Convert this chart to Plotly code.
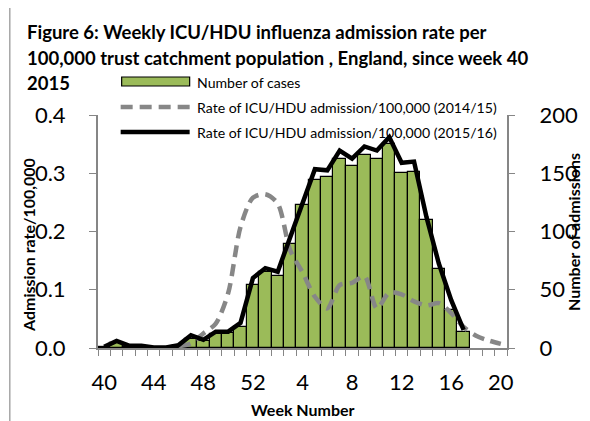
import plotly.graph_objects as go

# ---------------- data ----------------
weeks = [40, 41, 42, 43, 44, 45, 46, 47, 48, 49, 50, 51, 52,
         1, 2, 3, 4, 5, 6, 7, 8, 9, 10, 11, 12, 13, 14, 15, 16, 17, 18, 19, 20]

cases_2015_16 = [1, 4, 1, 1, 0, 0, 2, 8, 6, 12, 13, 18, 54,
                 65, 62, 89, 123, 144, 147, 162, 156, 166, 162, 175, 150, 151,
                 110, 68, 33, 14, None, None, None]

rate_2014_15 = [None, None, None, None, None, None, 0.003, 0.008, 0.025, 0.042, 0.094, 0.208, 0.258,
                0.264, 0.248, 0.168, 0.130, 0.088, 0.068, 0.108, 0.112, 0.123, 0.068, 0.095, 0.092, 0.080,
                0.073, 0.077, 0.060, 0.036, 0.021, 0.013, 0.007]

rate_2015_16 = [0.002, 0.012, 0.004, 0.004, 0.001, 0.001, 0.005, 0.022, 0.014, 0.028, 0.028, 0.043, 0.120,
                0.137, 0.131, 0.190, 0.248, 0.307, 0.305, 0.339, 0.325, 0.346, 0.339, 0.362, 0.318, 0.320,
                0.225, 0.145, 0.082, 0.031, None, None, None]

label_every = 4
title_lines = ["Figure 6: Weekly ICU/HDU influenza admission rate per",
               "100,000 trust catchment population , England, since week 40",
               "2015"]
legend_labels = ["Number of cases",
                 "Rate of ICU/HDU admission/100,000 (2014/15)",
                 "Rate of ICU/HDU admission/100,000 (2015/16)"]

# ---------------- geometry helpers ----------------
OFF = 8                      # page body margin
W, H = 590 - OFF, 421 - OFF  # figure size
# plot area in window pixels
L, R, T, B = 98, 513, 115, 348


def px(x):
    return (x - L) / (R - L)


def py(y):
    return (B - y) / (B - T)


FONT = "Lato"
pos = list(range(len(weeks)))

fig = go.Figure()

fig.add_trace(go.Bar(
    x=pos, y=cases_2015_16, yaxis="y", width=1,
    marker=dict(color="#9BBB59", line=dict(color="black", width=1.2)),
    name=legend_labels[0], showlegend=False,
))
fig.add_trace(go.Scatter(
    x=pos, y=rate_2014_15, yaxis="y2", mode="lines",
    line=dict(color="#878787", width=4.5, dash="12px,7px", shape="spline", smoothing=0.8),
    name=legend_labels[1], showlegend=False,
))
fig.add_trace(go.Scatter(
    x=pos, y=rate_2015_16, yaxis="y2", mode="lines",
    line=dict(color="black", width=4.5),
    name=legend_labels[2], showlegend=False,
))

tickvals = [i for i in pos if i % label_every == 0]
ticktext = [str(weeks[i]) for i in tickvals]
minor_vals = [i - 0.5 for i in range(len(weeks) + 1)]

axis_grey = "#868686"

fig.update_layout(
    width=W, height=H,
    margin=dict(l=L - OFF, r=W - (R - OFF), t=T - OFF, b=H - (B - OFF), pad=0),
    paper_bgcolor="white", plot_bgcolor="white",
    font=dict(family=FONT, color="black"),
    bargap=0,
    xaxis=dict(
        range=[-0.5, len(weeks) - 0.5],
        tickmode="array", tickvals=tickvals, ticktext=ticktext,
        ticks="outside", ticklen=6, tickcolor="rgba(0,0,0,0)",
        minor=dict(tickmode="array", tickvals=minor_vals, ticks="outside",
                   ticklen=6, tickcolor=axis_grey, tickwidth=1),
        showline=True, linecolor=axis_grey, linewidth=2,
        showgrid=False, zeroline=False,
        tickfont=dict(size=22, family=FONT),
        ticklabelstandoff=8,
    ),
    yaxis=dict(
        side="right", range=[0, 200], dtick=50, tick0=0,
        ticks="outside", ticklen=6, tickcolor=axis_grey,
        showline=True, linecolor=axis_grey, linewidth=2,
        showgrid=False, zeroline=False,
        tickfont=dict(size=22, family=FONT),
        ticklabelstandoff=20,
    ),
    yaxis2=dict(
        side="left", overlaying="y", range=[0, 0.4], dtick=0.1, tick0=0,
        tickformat=".1f",
        ticks="outside", ticklen=7, tickcolor=axis_grey,
        showline=True, linecolor=axis_grey, linewidth=2,
        showgrid=False, zeroline=False,
        tickfont=dict(size=22, family=FONT),
        ticklabelstandoff=19,
    ),
)

# border of the chart area (left and top visible)
fig.add_shape(type="line", xref="paper", yref="paper",
              x0=px(8.5), x1=px(8.5), y0=py(4), y1=py(430),
              line=dict(color="#A6A6A6", width=1.5))
fig.add_shape(type="line", xref="paper", yref="paper",
              x0=px(8.5), x1=px(600), y0=py(4), y1=py(4),
              line=dict(color="#A6A6A6", width=1.5))

# title
for txt, yc in zip(title_lines, [32, 58, 83]):
    fig.add_annotation(text="<b>%s</b>" % txt, xref="paper", yref="paper",
                       x=px(24), y=py(yc), xanchor="left", yanchor="middle",
                       showarrow=False, font=dict(size=18.5, family=FONT, color="black"))

# manual legend
fig.add_shape(type="rect", xref="paper", yref="paper",
              x0=px(122), x1=px(191), y0=py(86), y1=py(77),
              fillcolor="#9BBB59", line=dict(color="black", width=1.2))
fig.add_shape(type="line", xref="paper", yref="paper",
              x0=px(121), x1=px(191), y0=py(107), y1=py(107),
              line=dict(color="#878787", width=4.5, dash="12px,7px"))
fig.add_shape(type="line", xref="paper", yref="paper",
              x0=px(121), x1=px(191), y0=py(132), y1=py(132),
              line=dict(color="black", width=4.5))
for txt, yc in zip(legend_labels, [82, 107, 132]):
    fig.add_annotation(text=txt, xref="paper", yref="paper",
                       x=px(196), y=py(yc), xanchor="left", yanchor="middle",
                       showarrow=False, font=dict(size=14.1, family=FONT, color="black"))

# axis titles
fig.add_annotation(text="<b>Admission rate/100,000</b>", xref="paper", yref="paper",
                   x=px(27), y=py(245), textangle=-90, showarrow=False,
                   xanchor="center", yanchor="middle",
                   font=dict(size=16, family=FONT, color="black"))
fig.add_annotation(text="<b>Number of admissions</b>", xref="paper", yref="paper",
                   x=px(580), y=py(232), textangle=-90, showarrow=False,
                   xanchor="center", yanchor="middle",
                   font=dict(size=16, family=FONT, color="black"))
fig.add_annotation(text="<b>Week Number</b>", xref="paper", yref="paper",
                   x=px(306), y=py(409), showarrow=False,
                   xanchor="center", yanchor="middle",
                   font=dict(size=16, family=FONT, color="black"))

fig.write_html("out.html")
